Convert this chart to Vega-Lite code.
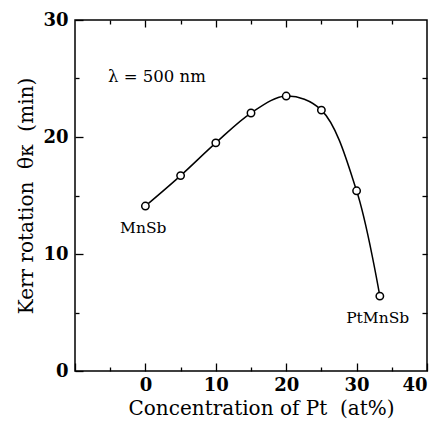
{
  "$schema": "https://vega.github.io/schema/vega-lite/v6.json",
  "width": 352,
  "height": 351,
  "autosize": "none",
  "padding": {"left": 75, "top": 20, "right": 10, "bottom": 50},
  "background": "white",
  "config": {
    "view": {"stroke": "black", "strokeWidth": 1.5},
    "axis": {
      "grid": false,
      "domain": false,
      "tickColor": "black",
      "tickWidth": 1.3,
      "labelFont": "DejaVu Serif",
      "labelFontWeight": "bold",
      "labelFontSize": 18,
      "labelColor": "black",
      "titleFont": "DejaVu Serif",
      "titleFontWeight": "normal",
      "titleFontSize": 20,
      "titleColor": "black"
    }
  },
  "datasets": {
    "kerr": [
      {"pt": 0, "kerr": 14.1},
      {"pt": 5, "kerr": 16.7},
      {"pt": 10, "kerr": 19.5},
      {"pt": 15, "kerr": 22.05},
      {"pt": 20, "kerr": 23.5},
      {"pt": 25, "kerr": 22.3},
      {"pt": 30, "kerr": 15.4},
      {"pt": 33.3, "kerr": 6.4}
    ],
    "notes": [
      {"kind": "lambda", "x": -5.3, "y": 25.1, "label": "λ = 500 nm"},
      {"kind": "compound", "x": -0.3, "y": 12.2, "label": "MnSb"},
      {"kind": "compound", "x": 33.0, "y": 4.5, "label": "PtMnSb"}
    ]
  },
  "layer": [
    {
      "data": {"name": "kerr"},
      "mark": {"type": "line", "interpolate": "catmull-rom", "color": "black", "strokeWidth": 1.5},
      "encoding": {
        "x": {
          "field": "pt", "type": "quantitative",
          "scale": {"domain": [-10, 40], "nice": false, "zero": false},
          "axis": {
            "orient": "bottom",
            "values": [-10, -5, 0, 5, 10, 15, 20, 25, 30, 35, 40],
            "labelExpr": "(datum.value % 10 === 0 && datum.value >= 0) ? datum.label : ''",
            "tickSize": {"expr": "datum.value % 10 === 0 ? -8 : -4"},
            "labelPadding": 13,
            "title": "Concentration of Pt\u00a0\u00a0(at%)",
            "titleX": 186,
            "titlePadding": 4
          }
        },
        "y": {
          "field": "kerr", "type": "quantitative",
          "scale": {"domain": [0, 30], "nice": false},
          "axis": {
            "orient": "left",
            "values": [0, 5, 10, 15, 20, 25, 30],
            "labelExpr": "datum.value % 10 === 0 ? datum.label : ''",
            "tickSize": {"expr": "datum.value % 10 === 0 ? -8 : -4"},
            "labelPadding": 15,
            "title": "Kerr rotation\u00a0\u00a0θκ\u00a0\u00a0(min)",
            "titlePadding": 6
          }
        }
      }
    },
    {
      "data": {"name": "kerr"},
      "mark": {"type": "point", "shape": "circle", "filled": true, "fill": "white", "stroke": "black", "strokeWidth": 1.5, "size": 55, "opacity": 1},
      "encoding": {
        "x": {
          "field": "pt", "type": "quantitative",
          "scale": {"domain": [-10, 40], "nice": false, "zero": false},
          "axis": {
            "orient": "top",
            "values": [-5, 0, 5, 10, 15, 20, 25, 30, 35],
            "labels": false,
            "tickSize": {"expr": "datum.value % 10 === 0 ? -7 : -4"},
            "title": null
          }
        },
        "y": {
          "field": "kerr", "type": "quantitative",
          "scale": {"domain": [0, 30], "nice": false},
          "axis": {
            "orient": "right",
            "values": [5, 10, 15, 20, 25],
            "labels": false,
            "tickSize": -5,
            "title": null
          }
        }
      }
    },
    {
      "data": {"name": "notes"},
      "transform": [{"filter": "datum.kind === 'lambda'"}],
      "mark": {"type": "text", "align": "left", "baseline": "middle", "font": "DejaVu Serif", "fontSize": 16.5, "color": "black"},
      "encoding": {
        "x": {"field": "x", "type": "quantitative", "scale": {"domain": [-10, 40], "nice": false, "zero": false}, "axis": null},
        "y": {"field": "y", "type": "quantitative", "scale": {"domain": [0, 30], "nice": false}, "axis": null},
        "text": {"field": "label"}
      }
    },
    {
      "data": {"name": "notes"},
      "transform": [{"filter": "datum.kind === 'compound'"}],
      "mark": {"type": "text", "align": "center", "baseline": "middle", "font": "DejaVu Serif", "fontSize": 15.5, "color": "black"},
      "encoding": {
        "x": {"field": "x", "type": "quantitative", "scale": {"domain": [-10, 40], "nice": false, "zero": false}, "axis": null},
        "y": {"field": "y", "type": "quantitative", "scale": {"domain": [0, 30], "nice": false}, "axis": null},
        "text": {"field": "label"}
      }
    }
  ],
  "resolve": {"axis": {"x": "independent", "y": "independent"}}
}
